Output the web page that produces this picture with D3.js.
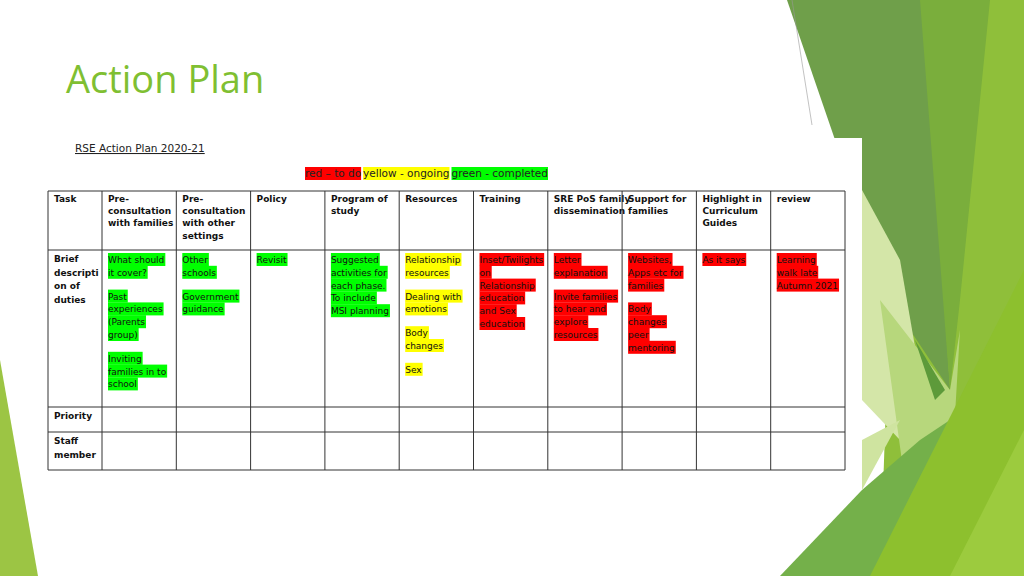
<!DOCTYPE html>
<html>
<head>
<meta charset="utf-8">
<script src="https://cdn.jsdelivr.net/npm/d3@7"></script>
<style>
  body { margin: 0; background: #fff; }
  svg { display: block; font-family: "DejaVu Sans", sans-serif; }
</style>
</head>
<body>
<svg id="slide" width="1024" height="576"></svg>
<script>
// DATA
const headers = ["Task", "Pre-\nconsultation\nwith families", "Pre-\nconsultation\nwith other\nsettings", "Policy",
  "Program of\nstudy", "Resources", "Training", "SRE PoS family\ndissemination", "Support for\nfamilies",
  "Highlight in\nCurriculum\nGuides", "review"];
const rowLabels = ["Brief\ndescripti\non of\nduties", "Priority", "Staff\nmember"];
const status = ["g", "g", "g", "g", "y", "r", "r", "r", "r", "r"];
const duties = [
  [["What should", "it cover?"], ["Past", "experiences", "(Parents", "group)"], ["Inviting", "families in to", "school"]],
  [["Other", "schools"], ["Government", "guidance"]],
  [["Revisit"]],
  [["Suggested", "activities for", "each phase.", "To include", "MSI planning"]],
  [["Relationship", "resources"], ["Dealing with", "emotions"], ["Body", "changes"], ["Sex"]],
  [["Inset/Twilights", "on", "Relationship", "education", "and Sex", "education"]],
  [["Letter", "explanation"], ["Invite families", "to hear and", "explore", "resources"]],
  [["Websites,", "Apps etc for", "families"], ["Body", "changes", "peer", "mentoring"]],
  [["As it says"]],
  [["Learning", "walk late", "Autumn 2021"]]
];
const legend = [["red \u2013 to do", "r"], ["yellow - ongoing", "y"], ["green - completed", "g"]];
const hl = { r: "#ff0000", y: "#ffff00", g: "#00ff00" };

const svg = d3.select("#slide");

// BACKGROUND FACETS
const facets = [
  { c: "#9cc544", p: [[0, 360], [38, 576], [0, 576]] },
  { c: "#8fbf3a", p: [[900, 0], [1024, 0], [1024, 576], [880, 576]] },
  { c: "#6f9f4a", p: [[787, 0], [925, 0], [950, 390], [890, 300]] },
  { c: "#7aae3c", p: [[920, 0], [990, 0], [960, 300], [950, 390]] },
  { c: "#d4e6a8", p: [[862, 190], [900, 260], [938, 480], [862, 400]] },
  { c: "#b7d77c", p: [[880, 300], [950, 390], [960, 330], [950, 500], [910, 520]] },
  { c: "#5d9a3a", p: [[915, 340], [945, 390], [935, 400]] },
  { c: "#74b04a", p: [[780, 576], [862, 490], [920, 440], [950, 420], [905, 576]] },
  { c: "#cfe4a0", p: [[862, 440], [900, 420], [862, 490]] },
  { c: "#8dc02e", p: [[870, 576], [1024, 270], [1024, 576]] },
  { c: "#9ccb3e", p: [[950, 576], [1024, 430], [1024, 576]] }
];
svg.selectAll("polygon.facet").data(facets).join("polygon")
  .attr("class", "facet")
  .attr("points", d => d.p.map(q => q.join(",")).join(" "))
  .attr("fill", d => d.c);
svg.append("line").attr("x1", 792).attr("y1", 0).attr("x2", 812).attr("y2", 125)
  .attr("stroke", "#999").attr("stroke-width", 0.6);

// TITLE
svg.append("text").attr("x", 66).attr("y", 93).attr("fill", "#7fbf32")
  .attr("font-family", "'Open Sans', sans-serif").attr("font-size", 38).text("Action Plan");

// WHITE IMAGE PANEL
svg.append("rect").attr("x", 48).attr("y", 138).attr("width", 814).attr("height", 349).attr("fill", "#fff");

svg.append("text").attr("x", 75).attr("y", 152).attr("font-size", 10.5).attr("fill", "#222")
  .attr("text-decoration", "underline").text("RSE Action Plan 2020-21");

// LEGEND
const lg = svg.append("g").attr("font-size", 10.5);
let lx = 305;
legend.forEach(([t, k]) => {
  const tx = lg.append("text").attr("x", lx).attr("y", 177).attr("fill", "#222").text(t);
  const w = tx.node().getComputedTextLength();
  lg.insert("rect", "text").attr("x", lx).attr("y", 167).attr("width", w).attr("height", 13).attr("fill", hl[k]);
  lx += w + 2;
});

// TABLE SCALES
const x = d3.scaleLinear().domain([1, 11]).range([102, 845]);
const colLeft = i => i === 0 ? 48 : x(i);
const colRight = i => x(i + 1);
const rowEdges = [191, 250, 407, 432, 470];

const t = svg.append("g").attr("font-size", 9).attr("fill", "#111");

// HEADER
headers.forEach((h, i) => {
  h.split("\n").forEach((ln, j) => {
    t.append("text").attr("x", colLeft(i) + 6).attr("y", 202 + j * 12.2).attr("font-weight", "bold").text(ln);
  });
});
// ROW LABELS
rowLabels.forEach((r, ri) => {
  r.split("\n").forEach((ln, j) => {
    t.append("text").attr("x", 54).attr("y", rowEdges[ri + 1] + 12 + j * 13.5).attr("font-weight", "bold").text(ln);
  });
});
// DUTIES
duties.forEach((paras, ci) => {
  let y = 263;
  paras.forEach(p => {
    p.forEach(ln => {
      const tx = t.append("text").attr("x", colLeft(ci + 1) + 6).attr("y", y).text(ln);
      const w = tx.node().getComputedTextLength();
      t.insert("rect", "text").attr("x", colLeft(ci + 1) + 6).attr("y", y - 10).attr("width", w + 1)
        .attr("height", 13).attr("fill", hl[status[ci]]);
      y += 12.8;
    });
    y += 11;
  });
});

// GRID
const grid = svg.append("g").attr("stroke", "#333").attr("stroke-width", 1);
rowEdges.forEach(y => grid.append("line").attr("x1", 48).attr("x2", 845).attr("y1", y).attr("y2", y));
d3.range(0, 12).forEach(i => {
  const xx = i === 0 ? 48 : x(i);
  grid.append("line").attr("x1", xx).attr("x2", xx).attr("y1", 191).attr("y2", 470);
});
</script>
</body>
</html>
